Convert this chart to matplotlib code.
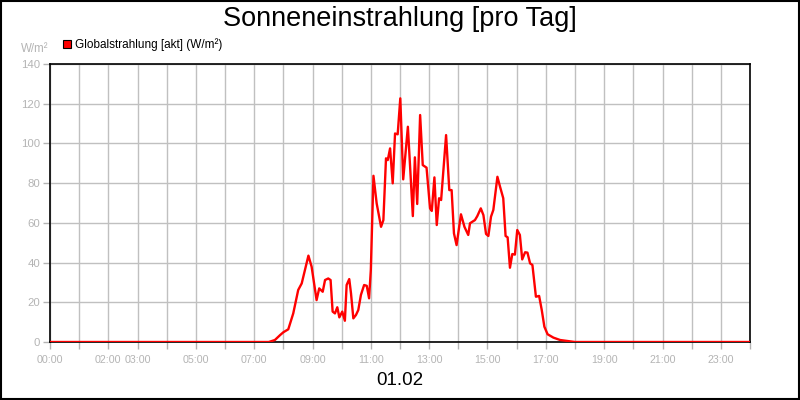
import matplotlib.pyplot as plt
from matplotlib.patches import Rectangle

plt.rcParams['font.family'] = ['Liberation Sans', 'DejaVu Sans']

# time of day in hours, global radiation in W/m²
hours = [0.0, 7.5, 7.71, 7.89, 8.0, 8.17, 8.34, 8.51, 8.63, 8.86, 8.97, 9.14, 9.23, 9.35,
         9.43, 9.54, 9.62, 9.69, 9.77, 9.85, 9.92, 10.02, 10.11, 10.17, 10.26, 10.32,
         10.40, 10.49, 10.57, 10.66, 10.77, 10.86, 10.94, 11.0, 11.09, 11.20, 11.35,
         11.43, 11.52, 11.58, 11.66, 11.75, 11.83, 11.92, 12.01, 12.11, 12.27, 12.44,
         12.51, 12.59, 12.69, 12.78, 12.91, 13.03, 13.09, 13.18, 13.26, 13.34, 13.41,
         13.58, 13.69, 13.77, 13.85, 13.94, 14.09, 14.21, 14.34, 14.40, 14.57, 14.65,
         14.77, 14.86, 14.95, 15.03, 15.12, 15.20, 15.34, 15.43, 15.54, 15.62, 15.69,
         15.77, 15.85, 15.94, 16.02, 16.11, 16.19, 16.29, 16.37, 16.46, 16.54, 16.66,
         16.77, 16.86, 16.95, 17.06, 17.26, 17.49, 18.0, 24.0]
radiation = [0, 0, 1, 3.5, 4.9, 6.4, 14.4, 26.2, 29.5, 43.5, 37.9, 21.1, 27, 25.3,
             31.2, 32, 31.2, 15.3, 14.4, 17.5, 12.4, 15.3, 10.7, 28.7, 31.7, 24.5,
             11.9, 13.6, 16.1, 23.7, 28.7, 28.3, 22, 36.3, 83.7, 69.8, 58,
             61.4, 92.5, 91.6, 97.5, 79.9, 105, 104.6, 122.7, 81.9, 108.4, 63.4,
             93, 69.5, 114.3, 89.1, 87.8, 67.3, 66, 82.9, 58.9, 72.4, 71.5,
             104.2, 76.5, 76.5, 54.7, 48.8, 64.3, 58, 53.9, 59.8, 61.4, 63.4,
             67.3, 63.9, 54.4, 53.4, 63.1, 66.5, 83.2, 78.2, 72.4, 53.4, 52.7,
             37.4, 44.3, 44, 56.4, 53.9, 41.6, 45.2, 45, 39.6, 38.8, 22.8,
             23.2, 16.1, 7.7, 3.9, 2.2, 1, 0, 0]

tick_hours = [0, 2, 3, 5, 7, 9, 11, 13, 15, 17, 19, 21, 23]
tick_labels = ['00:00', '02:00', '03:00', '05:00', '07:00', '09:00', '11:00',
               '13:00', '15:00', '17:00', '19:00', '21:00', '23:00']
y_ticks = [0, 20, 40, 60, 80, 100, 120, 140]

grey = '#b4b4b4'
fig = plt.figure(figsize=(8, 4), dpi=100)
ax = fig.add_axes([0.0625, 0.145, 0.875, 0.695])

ax.plot(hours, radiation, color='#ff0000', linewidth=1.7, zorder=3)

ax.set_xlim(0, 24)
ax.set_ylim(0, 140)
ax.set_xticks(range(25))
ax.set_xticklabels(['' for _ in range(25)])
for h, lab in zip(tick_hours, tick_labels):
    ax.text(h, -0.045, lab, transform=ax.get_xaxis_transform(), ha='center', va='top',
            fontsize=7.7, color=grey)
ax.set_yticks(y_ticks)
ax.set_yticklabels([str(v) for v in y_ticks], fontsize=8.2, color=grey)
ax.tick_params(axis='both', color=grey, length=5, width=1, direction='out', pad=2)
ax.grid(True, color='#c0c0c0', linewidth=1)
ax.set_axisbelow(True)
for s in ax.spines.values():
    s.set_color('black')
    s.set_linewidth(1.2)

fig.text(0.5, 0.952, 'Sonneneinstrahlung [pro Tag]', ha='center', va='center', fontsize=19.5)
fig.text(0.5, 0.048, '01.02', ha='center', va='center', fontsize=13.5)
fig.text(0.06, 0.878, 'W/m²', ha='right', va='center', fontsize=8.3, color=grey)

handle = Rectangle((0, 0), 1, 1, facecolor='#ff0000', edgecolor='black', linewidth=0.8)
fig.legend([handle], ['Globalstrahlung [akt] (W/m²)'], loc='center left',
           bbox_to_anchor=(0.071, 0.888), frameon=False, fontsize=8.5,
           handlelength=0.7, handleheight=0.7, handletextpad=0.3, borderpad=0)

fig.patches.append(Rectangle((0.001, 0.002), 0.998, 0.996, transform=fig.transFigure,
                             fill=False, edgecolor='black', linewidth=1.5))

fig.savefig('out.png', dpi=100, facecolor='white')
